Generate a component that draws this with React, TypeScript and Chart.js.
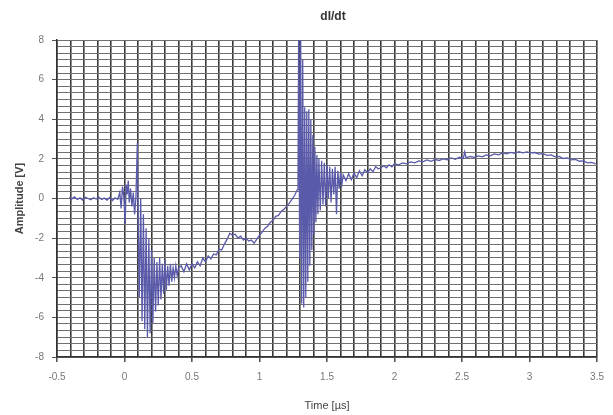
import React, { useEffect, useRef } from "react";
import { Chart, registerables } from "chart.js";

Chart.register(...registerables);

const chartTitle = "dI/dt";
const xAxisTitle = "Time [µs]";
const yAxisTitle = "Amplitude [V]";
const xTickLabels = ["-0.5", "0", "0.5", "1", "1.5", "2", "2.5", "3", "3.5"];
const yTickLabels = ["-8", "-6", "-4", "-2", "0", "2", "4", "6", "8"];
const xRange = [-0.5, 3.5];
const yRange = [-8, 8];
const xGridDivisions = 40;
const yGridDivisions = 48;

// [time µs, amplitude V]
const baseline: [number, number][] = [
  [-0.41, 0.05], [-0.39, -0.02], [-0.37, 0.08], [-0.35, -0.05],
  [-0.33, 0.03], [-0.31, -0.08], [-0.29, 0.06], [-0.27, 0.0], [-0.25, -0.06], [-0.23, 0.04],
  [-0.21, -0.03], [-0.19, 0.07], [-0.17, -0.05], [-0.15, 0.02], [-0.13, -0.08], [-0.11, 0.05],
  [-0.09, -0.1], [-0.07, 0.03], [-0.05, -0.04],
];

const precursor: [number, number][] = [
  [-0.035, 0.3], [-0.025, -0.5], [-0.015, 0.6], [-0.005, 0.1], [0.005, -1.3], [0.012, 0.7],
  [0.02, 0.2], [0.028, 0.9], [0.035, -0.2], [0.045, 0.5], [0.055, -0.4], [0.065, 0.3],
  [0.075, -0.8], [0.085, 0.1], [0.095, 2.8],
];

const firstBurst: [number, number][] = [
  [0.1, -0.5], [0.11, -5.0], [0.12, 0.0], [0.13, -6.2], [0.14, -0.8], [0.15, -6.6],
  [0.16, -1.5], [0.17, -7.0], [0.18, -2.0], [0.19, -6.8], [0.2, -2.6], [0.21, -6.3],
  [0.22, -3.0], [0.23, -5.7], [0.24, -3.2], [0.25, -5.4], [0.26, -3.0], [0.27, -5.1],
  [0.28, -3.3], [0.29, -4.8], [0.3, -3.1], [0.31, -4.6], [0.32, -3.4], [0.33, -4.4],
  [0.34, -3.3], [0.35, -4.2], [0.36, -3.5], [0.37, -4.0], [0.38, -3.4], [0.39, -3.9], [0.4, -3.5],
];

const recovery: [number, number][] = [
  [0.42, -3.4], [0.44, -3.7], [0.46, -3.3], [0.48, -3.6], [0.5, -3.3], [0.52, -3.5],
  [0.54, -3.2], [0.56, -3.4], [0.58, -3.0], [0.6, -3.2], [0.62, -2.9], [0.64, -3.05],
  [0.66, -2.8], [0.68, -2.85], [0.7, -2.55], [0.72, -2.6], [0.74, -2.3], [0.76, -2.05],
  [0.78, -1.75], [0.8, -1.85], [0.82, -1.8], [0.84, -2.0], [0.86, -1.9], [0.88, -2.1],
  [0.9, -2.0], [0.92, -2.15], [0.94, -2.1], [0.96, -2.25], [0.98, -2.05], [1.0, -1.85],
  [1.02, -1.7], [1.04, -1.5], [1.06, -1.4], [1.08, -1.2], [1.1, -1.1], [1.12, -0.9],
  [1.14, -0.85], [1.16, -0.65], [1.18, -0.55], [1.2, -0.4], [1.22, -0.25], [1.24, -0.05],
  [1.26, 0.15], [1.28, 0.45], [1.285, 0.9],
];

const secondBurst: [number, number][] = [
  [1.29, 8.5], [1.2975, -3.0], [1.305, 8.3], [1.3125, -5.3], [1.32, 7.0], [1.3275, -5.5],
  [1.335, 4.6], [1.3425, -5.0], [1.35, 4.4], [1.3575, -4.2], [1.365, 4.5], [1.3725, -3.4],
  [1.38, 4.0], [1.3875, -2.6], [1.395, 3.2], [1.4025, -1.8], [1.41, 2.6], [1.4175, -1.2],
  [1.425, 2.2], [1.4325, -0.8], [1.44, 2.0], [1.45, -0.6], [1.46, 1.9], [1.47, -0.3],
  [1.48, 1.8], [1.49, -0.4], [1.5, 1.7], [1.51, 0.0], [1.52, 1.6], [1.53, -0.2],
  [1.54, 1.5], [1.55, 0.2], [1.56, 1.6], [1.57, -0.8], [1.58, 1.4], [1.59, 0.5],
  [1.6, 1.3], [1.61, 0.7], [1.62, 1.2],
];

const tail: [number, number][] = [
  [1.64, 0.9], [1.66, 1.25], [1.68, 0.95], [1.7, 1.3], [1.72, 1.05], [1.74, 1.4],
  [1.76, 1.15], [1.78, 1.45], [1.8, 1.3], [1.82, 1.5], [1.84, 1.35], [1.86, 1.6],
  [1.88, 1.5], [1.9, 1.55], [1.92, 1.65], [1.94, 1.55], [1.96, 1.7], [1.98, 1.6],
  [2.0, 1.75], [2.03, 1.7], [2.06, 1.8], [2.09, 1.75], [2.12, 1.85], [2.15, 1.8],
  [2.18, 1.9], [2.21, 1.85], [2.24, 1.95], [2.27, 1.88], [2.3, 1.97], [2.33, 1.92],
  [2.36, 2.0], [2.39, 1.95], [2.42, 2.05], [2.45, 1.98], [2.48, 2.08], [2.51, 2.02],
  [2.52, 2.35], [2.53, 2.05], [2.56, 2.12], [2.59, 2.08], [2.62, 2.15], [2.65, 2.1],
  [2.68, 2.2], [2.71, 2.15], [2.74, 2.25], [2.77, 2.2], [2.8, 2.3], [2.83, 2.25],
  [2.86, 2.33], [2.89, 2.28], [2.92, 2.36], [2.95, 2.3], [2.98, 2.35], [3.01, 2.3],
  [3.04, 2.32], [3.07, 2.24], [3.1, 2.26], [3.13, 2.18], [3.16, 2.2], [3.19, 2.1],
  [3.22, 2.12], [3.25, 2.02], [3.28, 2.05], [3.31, 1.95], [3.34, 1.97], [3.37, 1.88],
  [3.4, 1.9], [3.43, 1.8], [3.46, 1.82], [3.49, 1.75],
];

const FONT = "'Liberation Sans', Arial, sans-serif";

function labelFor(labels: string[], value: number): string {
  const hit = labels.find((l) => Math.abs(parseFloat(l) - value) < 1e-6);
  return hit ?? "";
}

export default function App() {
  const canvasRef = useRef<HTMLCanvasElement | null>(null);

  useEffect(() => {
    document.body.style.margin = "0";
    const canvas = canvasRef.current;
    if (!canvas) return;

    const points = [...baseline, ...precursor, ...firstBurst, ...recovery, ...secondBurst, ...tail].map(
      ([x, y]) => ({ x, y })
    );

    const titlePlugin = {
      id: "fixedTitle",
      afterDraw(chart: any) {
        const { ctx, chartArea } = chart;
        ctx.save();
        ctx.font = `bold 12px ${FONT}`;
        ctx.fillStyle = "#333";
        ctx.textAlign = "center";
        ctx.textBaseline = "middle";
        ctx.fillText(chartTitle, (chartArea.left + chartArea.right) / 2 + 6, 17);
        ctx.restore();
      },
    };

    const chart = new Chart(canvas, {
      type: "line",
      data: {
        datasets: [
          {
            data: points,
            borderColor: "#5a5aaa",
            borderWidth: 1.3,
            pointRadius: 0,
            tension: 0,
            fill: false,
          },
        ],
      },
      options: {
        responsive: false,
        animation: false,
        layout: { padding: { top: 40, right: 9, left: 0, bottom: 0 } },
        plugins: {
          legend: { display: false },
          tooltip: { enabled: false },
          title: { display: false },
        },
        scales: {
          x: {
            type: "linear",
            min: xRange[0],
            max: xRange[1],
            afterBuildTicks: (scale: any) => {
              const t = [];
              for (let i = 0; i <= xGridDivisions; i++) {
                t.push({ value: xRange[0] + (i * (xRange[1] - xRange[0])) / xGridDivisions });
              }
              scale.ticks = t;
            },
            afterFit: (scale: any) => {
              scale.height = 58;
            },
            ticks: {
              autoSkip: false,
              maxRotation: 0,
              padding: 9,
              color: "#777",
              font: { family: FONT, size: 10 },
              callback: (v: any) => labelFor(xTickLabels, Number(v)),
            },
            grid: {
              color: "#3a3a3a",
              lineWidth: 1.6,
              tickLength: 5,
              tickColor: (ctx: any) => (ctx.tick && ctx.tick.label ? "#555" : "transparent"),
            },
            border: { color: "#333", width: 1.5 },
            title: {
              display: true,
              text: xAxisTitle,
              color: "#444",
              font: { family: FONT, size: 11 },
              padding: { top: 0, bottom: 2 },
            },
          },
          y: {
            type: "linear",
            min: yRange[0],
            max: yRange[1],
            afterBuildTicks: (scale: any) => {
              const t = [];
              for (let i = 0; i <= yGridDivisions; i++) {
                t.push({ value: yRange[0] + (i * (yRange[1] - yRange[0])) / yGridDivisions });
              }
              scale.ticks = t;
            },
            afterFit: (scale: any) => {
              scale.width = 57;
            },
            ticks: {
              autoSkip: false,
              padding: 8,
              color: "#777",
              font: { family: FONT, size: 10 },
              callback: (v: any) => labelFor(yTickLabels, Number(v)),
            },
            grid: {
              color: "#707070",
              lineWidth: 1,
              tickLength: 5,
              tickColor: (ctx: any) => (ctx.tick && ctx.tick.label ? "#555" : "transparent"),
            },
            border: { color: "#333", width: 1.5 },
            title: {
              display: true,
              text: yAxisTitle,
              color: "#444",
              font: { family: FONT, size: 11, weight: "bold" },
              padding: { top: 13, bottom: 0 },
            },
          },
        },
      },
      plugins: [titlePlugin],
    });

    return () => chart.destroy();
  }, []);

  return (
    <div style={{ width: 613, height: 415, background: "#fff" }}>
      <canvas ref={canvasRef} width={613} height={415} style={{ display: "block" }} />
    </div>
  );
}
